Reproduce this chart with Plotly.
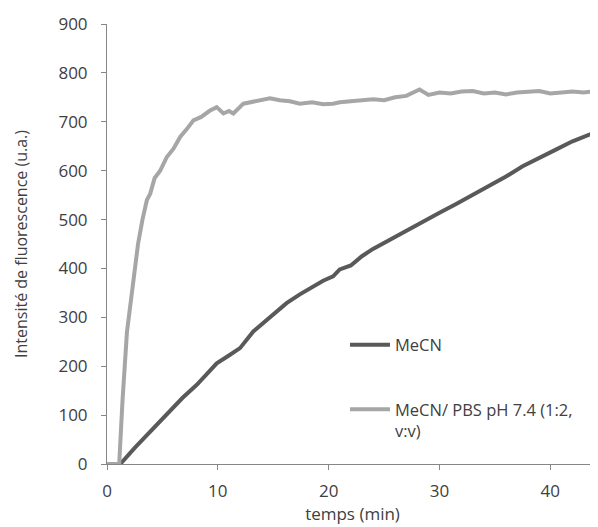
import plotly.graph_objects as go

# MeCN / PBS pH 7.4 (1:2, v:v) - light grey
t_pbs = [0, 1.1, 1.4, 1.8, 2.3, 2.8, 3.2, 3.6, 3.9, 4.3, 4.8, 5.4, 6.0, 6.6, 7.2, 7.8,
         8.5, 9.3, 9.9, 10.5, 11.0, 11.4, 12.3, 13.0, 13.8, 14.7, 15.6, 16.5, 17.4,
         18.5, 19.5, 20.4, 21.0, 22.0, 22.8, 24.0, 25.0, 26.0, 27.0, 28.2, 29.0,
         30.0, 31.0, 32.0, 33.0, 34.0, 35.0, 36.0, 37.0, 38.0, 39.0, 40.0, 41.0,
         42.0, 43.0, 44.3]
y_pbs = [0, 0, 130, 270, 360, 450, 500, 540, 553, 585, 600, 628, 645, 669, 685, 703,
         710, 723, 730, 717, 722, 717, 737, 740, 744, 748, 744, 742, 737,
         740, 736, 737, 740, 742, 744, 746, 744, 750, 753, 766, 755,
         760, 758, 762, 763, 758, 760, 756, 760, 762, 763, 758, 760,
         762, 760, 763]

# MeCN - dark grey
t_mecn = [0, 1.2, 2.5, 3.9, 5.4, 6.8, 8.1, 9.0, 9.9, 11.0, 12.0, 13.2, 14.0, 15.0,
          16.2, 17.4, 18.6, 19.5, 20.4, 21.0, 22.0, 23.0, 24.0, 25.5, 27.0, 28.5,
          30.0, 31.5, 33.0, 34.5, 36.0, 37.5, 39.0, 40.5, 42.0, 43.0, 44.3]
y_mecn = [0, 0, 33, 66, 104, 135, 162, 185, 206, 222, 237, 271, 287, 305,
          329, 347, 363, 375, 384, 398, 406, 425, 440, 459, 477, 497,
          514, 532, 550, 568, 588, 609, 625, 643, 660, 670, 681]

x_ticks = [0, 10, 20, 30, 40]
y_ticks = [0, 100, 200, 300, 400, 500, 600, 700, 800, 900]

font_family = "Open Sans, Liberation Sans, sans-serif"
text_color = "#404040"
axis_color = "#868686"

fig = go.Figure()
fig.add_trace(go.Scatter(x=t_mecn, y=y_mecn, mode="lines", name="MeCN",
                         legendgroup="a",
                         line=dict(color="#595959", width=4)))
fig.add_trace(go.Scatter(x=t_pbs, y=y_pbs, mode="lines",
                         name="MeCN/ PBS pH 7.4 (1:2,<br>v:v)",
                         legendgroup="b",
                         line=dict(color="#A6A6A6", width=4)))

fig.update_layout(
    width=590, height=519,
    margin=dict(l=99, r=0, t=16, b=63),
    paper_bgcolor="white", plot_bgcolor="white",
    font=dict(family=font_family, size=17, color=text_color),
    showlegend=True,
    legend=dict(x=0.4847, y=0.31, xanchor="left", yanchor="top",
                bgcolor="rgba(0,0,0,0)", borderwidth=0,
                tracegroupgap=40, valign="top", itemwidth=40,
                font=dict(size=16.5, color=text_color)),
    xaxis=dict(range=[0, 44.3], tickvals=x_ticks, showgrid=False, zeroline=False,
               showline=True, linecolor=axis_color, linewidth=1,
               ticks="outside", ticklen=5, tickcolor=axis_color,
               ticklabelstandoff=7, tickfont=dict(size=17),
               title=dict(text="temps (min)", standoff=5, font=dict(size=17))),
    yaxis=dict(range=[0, 900], tickvals=y_ticks, showgrid=False, zeroline=False,
               showline=True, linecolor=axis_color, linewidth=1,
               ticks="outside", ticklen=5, tickcolor=axis_color,
               ticklabelstandoff=10, tickfont=dict(size=17),
               title=dict(text="Intensité de fluorescence (u.a.)", standoff=26,
                          font=dict(size=16))),
)

fig.write_html("out.html")
